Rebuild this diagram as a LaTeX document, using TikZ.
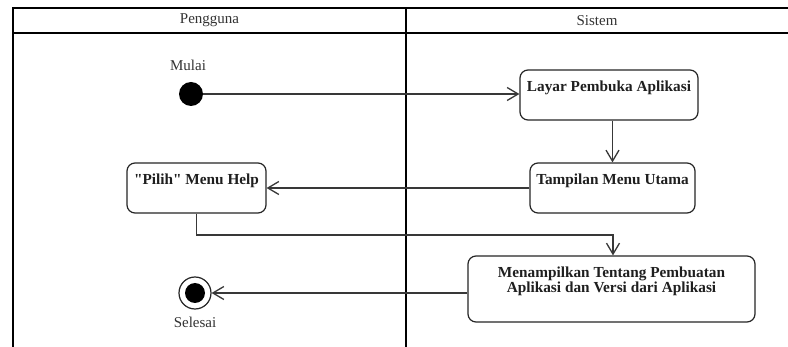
\documentclass[tikz,border=0pt]{standalone}
\usepackage{fontspec}
\setmainfont{Liberation Serif}
\usetikzlibrary{arrows.meta}
\begin{document}
\begin{tikzpicture}[x=1pt,y=-1pt,
  lane/.style={line width=2.4pt, draw=black, line join=miter},
  act/.style={draw=black!85, line width=1.2pt, rounded corners=8pt, fill=white, inner sep=0pt},
  acttext/.style={font=\fontsize{15.3}{15}\selectfont\bfseries, align=center, inner sep=0pt, anchor=north, text=black!88},
  lbl/.style={font=\fontsize{15}{17}\selectfont, text=black!80, inner sep=0pt},
  flow/.style={draw=black!78, line width=1.3pt, -{Straight Barb[length=11pt,width=13pt,line width=1.3pt]}},
]
\useasboundingbox (0,0) rectangle (788,347);
\fill[white] (0,0) rectangle (788,347);

% swimlane frame and headers
\draw[lane] (13,347) -- (13,8) -- (788,8);
\draw[lane] (13,33) -- (788,33);
\draw[lane] (406,8) -- (406,347);
\node[lbl] (hUser) at (209.5,20.5) {Pengguna};
\node[lbl] (hSys) at (597,20.5) {Sistem};

% initial and final states
\node[circle, fill=black, minimum size=24pt, inner sep=0pt] (start) at (191,94) {};
\node[lbl] (startL) at (188,65) {Mulai};
\node[circle, draw=black!85, line width=1.2pt, fill=white, minimum size=32pt, inner sep=0pt] (end) at (195,293) {};
\node[circle, fill=black, minimum size=20pt, inner sep=0pt] (endDot) at (end) {};
\node[lbl] (endL) at (195,322) {Selesai};

% activities
\node[act, minimum width=178pt, minimum height=50pt] (layar) at (609,95) {};
\node[acttext] (layarT) at ([yshift=-11pt]layar.north) {Layar Pembuka Aplikasi};

\node[act, minimum width=165pt, minimum height=50pt] (tampil) at (612.5,188) {};
\node[acttext] (tampilT) at ([yshift=-11pt]tampil.north) {Tampilan Menu Utama};

\node[act, minimum width=139pt, minimum height=50pt] (pilih) at (196.5,188) {};
\node[acttext] (pilihT) at ([yshift=-11pt]pilih.north) {\textquotedbl Pilih\textquotedbl{} Menu Help};

\node[act, minimum width=287pt, minimum height=66pt] (info) at (611.5,289) {};
\node[acttext] (infoT) at ([yshift=-11pt]info.north) {Menampilkan Tentang Pembuatan\\Aplikasi dan Versi dari Aplikasi};

% control flow
\coordinate (bend) at (613,235);
\draw[flow] (start.east) -- (layar.west |- start);
\draw[flow] (tampil.north |- layar.south) -- (tampil.north);
\draw[flow] (tampil.west) -- (pilih.east);
\draw[flow] (pilih.south) |- (bend) -- (bend |- info.north);
\draw[flow] (info.west |- end) -- (end.east);
\end{tikzpicture}
\end{document}
